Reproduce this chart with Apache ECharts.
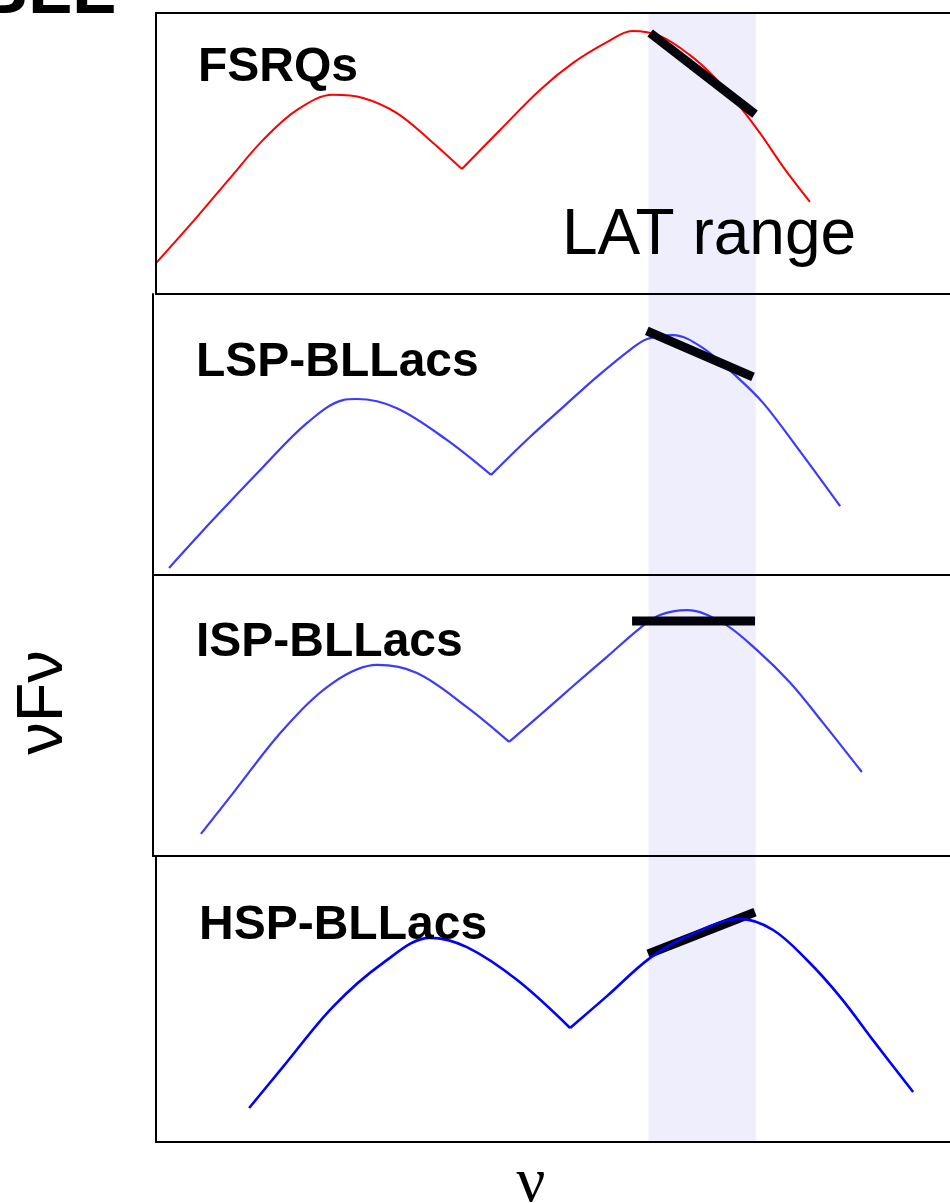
<!DOCTYPE html>
<html>
<head>
<meta charset="utf-8">
<script src="https://cdn.jsdelivr.net/npm/echarts/dist/echarts.min.js"></script>
<style>
  html, body { margin: 0; padding: 0; background: #fff; }
  #chart { width: 950px; height: 1203px; }
</style>
</head>
<body>
<div id="chart"></div>
<script>
// Schematic blazar SEDs: x = log10(nu / Hz), y = log10(nuFnu) in arbitrary units (0-8 per panel)
const classes = ['FSRQs', 'LSP-BLLacs', 'ISP-BLLacs', 'HSP-BLLacs'];
const latRange = [22.7, 25.9];

// synchrotron hump (start -> dip)
const fsrqSync = [[8.00,0.88],[9.22,2.19],[10.21,3.30],[11.19,4.38],[12.21,5.24],[13.28,5.67],[14.18,5.58],[15.19,5.15],[16.18,4.38],[17.13,3.56]];
const lspSync  = [[8.39,0.20],[9.70,1.57],[11.19,3.07],[12.51,4.33],[13.58,4.98],[14.00,5.01],[15.19,4.75],[16.69,3.84],[18.00,2.85]];
const ispSync  = [[9.34,0.63],[10.30,1.79],[11.79,3.59],[13.28,4.93],[14.60,5.44],[15.79,5.21],[17.28,4.24],[18.54,3.25]];
const hspSync  = [[10.78,0.95],[11.79,2.10],[13.28,3.78],[14.78,5.01],[16.18,5.71],[17.28,5.45],[18.78,4.53],[20.36,3.19]];

// inverse-Compton hump (dip -> end)
const fsrqIC = [[17.13,3.56],[18.27,4.67],[19.46,5.81],[20.45,6.58],[21.46,7.17],[22.21,7.49],[23.04,7.35],[23.94,6.80],[24.69,6.15],[25.34,5.44],[26.03,4.58],[26.72,3.62],[27.52,2.62]];
const lspIC  = [[18.00,2.85],[19.16,3.93],[20.15,4.78],[21.16,5.64],[22.15,6.41],[22.66,6.72],[23.43,6.83],[24.33,6.46],[25.34,5.64],[26.12,4.90],[27.13,3.64],[28.42,1.96]];
const ispIC  = [[18.54,3.25],[19.46,4.01],[20.45,4.84],[21.46,5.67],[22.45,6.49],[23.04,6.86],[23.85,7.00],[24.93,6.63],[25.94,5.86],[26.93,4.93],[27.91,3.79],[29.07,2.39]];
const hspIC  = [[20.36,3.19],[21.46,4.08],[22.75,5.15],[23.94,5.79],[25.43,6.24],[26.42,5.93],[27.43,5.09],[28.42,4.06],[29.40,2.85],[30.60,1.40]];

// LAT spectra (power-law segments)
const fsrqLat = [[22.75,7.43],[25.88,5.12]];
const lspLat  = [[22.65,6.95],[25.82,5.64]];
const ispLat  = [[22.21,6.69],[25.88,6.69]];
const hspLat  = [[22.69,5.26],[25.88,6.43]];

const syncData = [fsrqSync, lspSync, ispSync, hspSync];
const icData   = [fsrqIC, lspIC, ispIC, hspIC];
const latData  = [fsrqLat, lspLat, ispLat, hspLat];

// layout & style
const panelTop    = [13, 294, 575, 856];
const panelHeight = [281, 281, 281, 286];
const panelLeft   = [156, 153, 153, 156];
const panelRight  = 950;
const xMinAt      = [8.0, 7.91, 7.91, 8.0];
const xMax        = 31.70;
const curveColor  = ['#ff0000', '#3b3bff', '#3b3bff', '#0000ff'];
const curveWidth  = [2, 2.2, 2.2, 2.6];
const titleMid    = [67.5, 362.5, 642.5, 926];
const titleLeft   = [198, 196, 196, 199];

const frameLine = { show: true, onZero: false, lineStyle: { color: '#000', width: 2 } };
const grids = [], xAxes = [], yAxes = [], series = [], graphics = [];

for (let i = 0; i < 4; i++) {
  grids.push({
    left: panelLeft[i], top: panelTop[i],
    width: panelRight - panelLeft[i], height: panelHeight[i],
    show: false
  });
  xAxes.push({
    gridIndex: i, type: 'value', min: xMinAt[i], max: xMax, position: 'bottom', z: 10,
    axisLine: frameLine, axisTick: { show: false }, axisLabel: { show: false }, splitLine: { show: false }
  });
  yAxes.push({
    gridIndex: i, type: 'value', min: 0, max: 8, position: 'left', z: 10,
    axisLine: frameLine, axisTick: { show: false }, axisLabel: { show: false }, splitLine: { show: false }
  });

  const curveZ = i === 3 ? 5 : 3;
  const barZ = i === 3 ? 4 : 6;

  series.push({
    type: 'line', xAxisIndex: i, yAxisIndex: i, data: syncData[i],
    smooth: 0.35, showSymbol: false, silent: true, z: 2,
    lineStyle: { color: curveColor[i], width: curveWidth[i] },
    markArea: {
      silent: true,
      itemStyle: { color: '#eeeefd' },
      data: [[{ xAxis: latRange[0] }, { xAxis: latRange[1] }]]
    }
  });
  series.push({
    type: 'line', xAxisIndex: i, yAxisIndex: i, data: icData[i],
    smooth: 0.35, showSymbol: false, silent: true, z: curveZ,
    lineStyle: { color: curveColor[i], width: curveWidth[i] }
  });
  series.push({
    type: 'line', xAxisIndex: i, yAxisIndex: i, data: latData[i],
    showSymbol: false, silent: true, z: barZ,
    lineStyle: { color: '#03030c', width: 9, cap: 'butt' }
  });

  graphics.push({
    type: 'text', x: titleLeft[i], y: titleMid[i], z: 100,
    style: {
      text: classes[i], fill: '#000',
      font: 'bold 48px "Liberation Sans", Arial, sans-serif',
      align: 'left', verticalAlign: 'middle'
    }
  });
}

// top frame edge of the first panel
xAxes.push({
  gridIndex: 0, type: 'value', min: xMinAt[0], max: xMax, position: 'top', z: 10,
  axisLine: frameLine, axisTick: { show: false }, axisLabel: { show: false }, splitLine: { show: false }
});

graphics.push(
  { type: 'text', x: 562, y: 236, z: 100,
    style: { text: 'LAT range', fill: '#000', font: '64px "Liberation Sans", Arial, sans-serif', align: 'left', verticalAlign: 'middle' } },
  { type: 'text', x: 44.5, y: 702.5, rotation: Math.PI / 2, z: 100,
    style: { text: 'νFν', fill: '#000', font: '65px "Liberation Sans", Arial, sans-serif', align: 'center', verticalAlign: 'middle' } },
  { type: 'text', x: 531, y: 1184, z: 100,
    style: { text: 'ν', fill: '#000', font: '64px "Liberation Serif", "Times New Roman", serif', align: 'center', verticalAlign: 'middle' } },
  { type: 'text', x: -24, y: -7, z: 100,
    style: { text: 'BLL', fill: '#000', font: 'bold 72px "Liberation Sans", Arial, sans-serif', align: 'left', verticalAlign: 'middle' } }
);

const chart = echarts.init(document.getElementById('chart'), null, { renderer: 'canvas' });
chart.setOption({
  animation: false,
  backgroundColor: '#fff',
  grid: grids,
  xAxis: xAxes,
  yAxis: yAxes,
  series: series,
  graphic: graphics
});
</script>
</body>
</html>
